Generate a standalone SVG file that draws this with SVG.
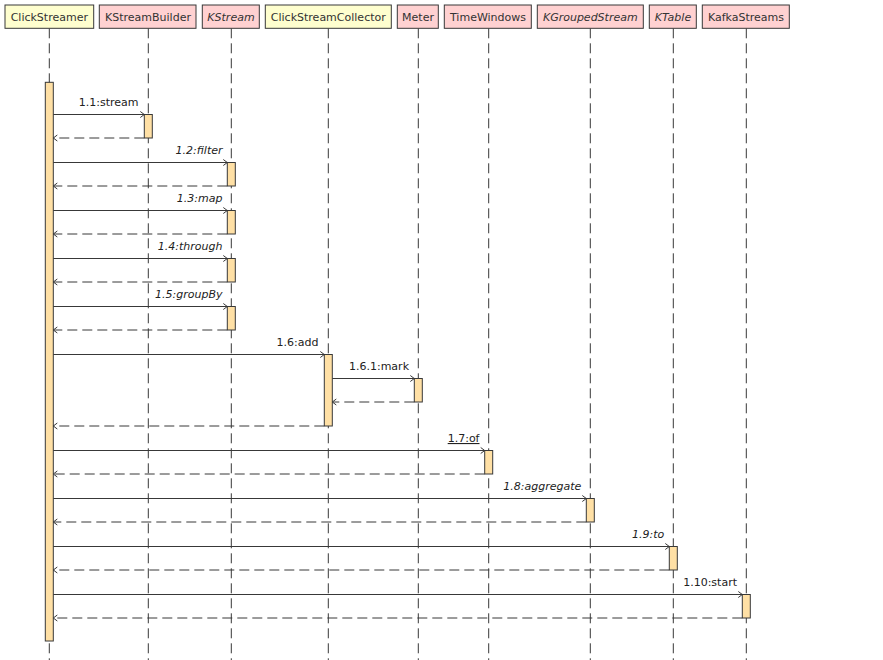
<svg xmlns="http://www.w3.org/2000/svg" width="883" height="660" viewBox="0 0 883 660">
<style>
text{font-family:"DejaVu Sans","Liberation Sans",sans-serif;font-size:11px;fill:#222}
.hd{text-anchor:middle;fill:#333}
.it{font-style:italic}
.box{stroke:#383838;stroke-width:1}
.y{fill:#FEFECE}
.p{fill:#FFD1D1}
.life{stroke:#383838;stroke-width:1;stroke-dasharray:10,5;fill:none}
.act{fill:#FFE0A5;stroke:#383838;stroke-width:1}
.msg{stroke:#383838;stroke-width:1;fill:none}
.ret{stroke:#383838;stroke-width:1;fill:none;stroke-dasharray:10,5}
.ah{stroke:#383838;stroke-width:1;fill:none}
.lb{text-anchor:end}
</style>
<rect width="883" height="660" fill="#FFFFFF"/>
<g id="lifelines">
<line class="life" x1="49.3" y1="28.3" x2="49.3" y2="660"/>
<line class="life" x1="148.3" y1="28.3" x2="148.3" y2="660"/>
<line class="life" x1="231.3" y1="28.3" x2="231.3" y2="660"/>
<line class="life" x1="328.3" y1="28.3" x2="328.3" y2="660"/>
<line class="life" x1="418.3" y1="28.3" x2="418.3" y2="660"/>
<line class="life" x1="488.7" y1="28.3" x2="488.7" y2="660"/>
<line class="life" x1="590.3" y1="28.3" x2="590.3" y2="660"/>
<line class="life" x1="673.3" y1="28.3" x2="673.3" y2="660"/>
<line class="life" x1="746.3" y1="28.3" x2="746.3" y2="660"/>
</g>
<g id="ClickStreamer"><rect class="box y" x="5" y="5" width="88.7" height="23.3"/><text class="hd" x="49.3" y="21">ClickStreamer</text></g>
<g id="KStreamBuilder"><rect class="box p" x="99.3" y="5" width="96.7" height="23.3"/><text class="hd" x="148" y="21">KStreamBuilder</text></g>
<g id="KStream"><rect class="box p" x="202.3" y="5" width="57" height="23.3"/><text class="hd it" x="231" y="21">KStream</text></g>
<g id="ClickStreamCollector"><rect class="box y" x="265.3" y="5" width="126" height="23.3"/><text class="hd" x="328.3" y="21">ClickStreamCollector</text></g>
<g id="Meter"><rect class="box p" x="397.3" y="5" width="41" height="23.3"/><text class="hd" x="418" y="21">Meter</text></g>
<g id="TimeWindows"><rect class="box p" x="444.3" y="5" width="87" height="23.3"/><text class="hd" x="488" y="21">TimeWindows</text></g>
<g id="KGroupedStream"><rect class="box p" x="537.3" y="5" width="106" height="23.3"/><text class="hd it" x="590.3" y="21">KGroupedStream</text></g>
<g id="KTable"><rect class="box p" x="649.3" y="5" width="47" height="23.3"/><text class="hd it" x="673" y="21">KTable</text></g>
<g id="KafkaStreams"><rect class="box p" x="702.3" y="5" width="87" height="23.3"/><text class="hd" x="746" y="21">KafkaStreams</text></g>
<g id="activations">
<rect class="act" x="45.3" y="82.3" width="8" height="558.7"/>
<rect class="act" x="144.3" y="114.5" width="8" height="23.5"/>
<rect class="act" x="227.3" y="162.5" width="8" height="23.5"/>
<rect class="act" x="227.3" y="210.5" width="8" height="23.5"/>
<rect class="act" x="227.3" y="258.5" width="8" height="23.5"/>
<rect class="act" x="227.3" y="306.5" width="8" height="23.5"/>
<rect class="act" x="324.3" y="354.5" width="8" height="71.5"/>
<rect class="act" x="414.3" y="378.5" width="8" height="23.5"/>
<rect class="act" x="484.7" y="450.5" width="8" height="23.5"/>
<rect class="act" x="586.3" y="498.5" width="8" height="23.5"/>
<rect class="act" x="669.3" y="546.5" width="8" height="23.5"/>
<rect class="act" x="742.3" y="594.5" width="8" height="23.5"/>
</g>
<g id="connectors">
<!-- calls -->
<line class="msg" x1="53.3" y1="114.5" x2="144.3" y2="114.5"/><path class="ah" d="M140.3,111.5 L144.3,114.5 L140.3,117.5"/>
<line class="msg" x1="53.3" y1="162.5" x2="227.3" y2="162.5"/><path class="ah" d="M223.3,159.5 L227.3,162.5 L223.3,165.5"/>
<line class="msg" x1="53.3" y1="210.5" x2="227.3" y2="210.5"/><path class="ah" d="M223.3,207.5 L227.3,210.5 L223.3,213.5"/>
<line class="msg" x1="53.3" y1="258.5" x2="227.3" y2="258.5"/><path class="ah" d="M223.3,255.5 L227.3,258.5 L223.3,261.5"/>
<line class="msg" x1="53.3" y1="306.5" x2="227.3" y2="306.5"/><path class="ah" d="M223.3,303.5 L227.3,306.5 L223.3,309.5"/>
<line class="msg" x1="53.3" y1="354.5" x2="324.3" y2="354.5"/><path class="ah" d="M320.3,351.5 L324.3,354.5 L320.3,357.5"/>
<line class="msg" x1="332.3" y1="378.5" x2="414.3" y2="378.5"/><path class="ah" d="M410.3,375.5 L414.3,378.5 L410.3,381.5"/>
<line class="msg" x1="53.3" y1="450.5" x2="484.7" y2="450.5"/><path class="ah" d="M480.7,447.5 L484.7,450.5 L480.7,453.5"/>
<line class="msg" x1="53.3" y1="498.5" x2="586.3" y2="498.5"/><path class="ah" d="M582.3,495.5 L586.3,498.5 L582.3,501.5"/>
<line class="msg" x1="53.3" y1="546.5" x2="669.3" y2="546.5"/><path class="ah" d="M665.3,543.5 L669.3,546.5 L665.3,549.5"/>
<line class="msg" x1="53.3" y1="594.5" x2="742.3" y2="594.5"/><path class="ah" d="M738.3,591.5 L742.3,594.5 L738.3,597.5"/>
<!-- returns -->
<line class="ret" x1="144.3" y1="138" x2="53.3" y2="138"/><path class="ah" d="M57.3,135 L53.3,138 L57.3,141"/>
<line class="ret" x1="227.3" y1="186" x2="53.3" y2="186"/><path class="ah" d="M57.3,183 L53.3,186 L57.3,189"/>
<line class="ret" x1="227.3" y1="234" x2="53.3" y2="234"/><path class="ah" d="M57.3,231 L53.3,234 L57.3,237"/>
<line class="ret" x1="227.3" y1="282" x2="53.3" y2="282"/><path class="ah" d="M57.3,279 L53.3,282 L57.3,285"/>
<line class="ret" x1="227.3" y1="330" x2="53.3" y2="330"/><path class="ah" d="M57.3,327 L53.3,330 L57.3,333"/>
<line class="ret" x1="414.3" y1="402" x2="332.3" y2="402"/><path class="ah" d="M336.3,399 L332.3,402 L336.3,405"/>
<line class="ret" x1="324.3" y1="426" x2="53.3" y2="426"/><path class="ah" d="M57.3,423 L53.3,426 L57.3,429"/>
<line class="ret" x1="484.7" y1="474" x2="53.3" y2="474"/><path class="ah" d="M57.3,471 L53.3,474 L57.3,477"/>
<line class="ret" x1="586.3" y1="522" x2="53.3" y2="522"/><path class="ah" d="M57.3,519 L53.3,522 L57.3,525"/>
<line class="ret" x1="669.3" y1="570" x2="53.3" y2="570"/><path class="ah" d="M57.3,567 L53.3,570 L57.3,573"/>
<line class="ret" x1="742.3" y1="618" x2="53.3" y2="618"/><path class="ah" d="M57.3,615 L53.3,618 L57.3,621"/>
</g>
<g id="labels">
<text class="lb" x="138.5" y="106">1.1:stream</text>
<text class="lb it" x="222.5" y="154">1.2:filter</text>
<text class="lb it" x="222.5" y="202">1.3:map</text>
<text class="lb it" x="222.5" y="250">1.4:through</text>
<text class="lb it" x="222.5" y="298">1.5:groupBy</text>
<text class="lb" x="318.5" y="346">1.6:add</text>
<text class="lb" x="409" y="370">1.6.1:mark</text>
<text class="lb" x="479.5" y="442" text-decoration="underline">1.7:of</text>
<text class="lb it" x="581.3" y="490">1.8:aggregate</text>
<text class="lb it" x="664.3" y="538">1.9:to</text>
<text class="lb" x="737" y="586">1.10:start</text>
</g>
</svg>
